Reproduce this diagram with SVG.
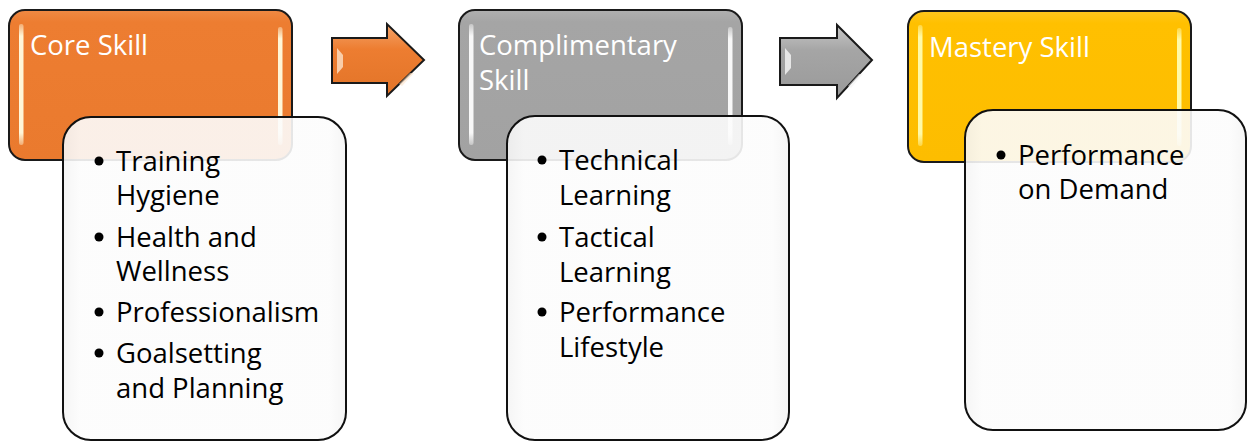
<svg xmlns="http://www.w3.org/2000/svg" width="1248" height="442" viewBox="0 0 1248 442">
<defs>
<linearGradient id="gOrange" x1="0" y1="0" x2="0" y2="1">
<stop offset="0" stop-color="#f08a44"/><stop offset="0.08" stop-color="#ed7d31"/><stop offset="1" stop-color="#ea7a2e"/>
</linearGradient>
<linearGradient id="gGray" x1="0" y1="0" x2="0" y2="1">
<stop offset="0" stop-color="#b0b0b0"/><stop offset="0.08" stop-color="#a5a5a5"/><stop offset="1" stop-color="#a2a2a2"/>
</linearGradient>
<linearGradient id="gGold" x1="0" y1="0" x2="0" y2="1">
<stop offset="0" stop-color="#ffc61f"/><stop offset="0.08" stop-color="#ffc000"/><stop offset="1" stop-color="#fdbd00"/>
</linearGradient>
<linearGradient id="gArrO" x1="0" y1="0" x2="0" y2="1">
<stop offset="0" stop-color="#f4a46a"/><stop offset="0.35" stop-color="#ed7d31"/><stop offset="1" stop-color="#e27428"/>
</linearGradient>
<linearGradient id="gArrG" x1="0" y1="0" x2="0" y2="1">
<stop offset="0" stop-color="#c8c8c8"/><stop offset="0.35" stop-color="#a5a5a5"/><stop offset="1" stop-color="#9a9a9a"/>
</linearGradient>
<linearGradient id="gHiO" x1="0" y1="0" x2="0" y2="1">
<stop offset="0" stop-color="#fff6d8" stop-opacity="0.4"/><stop offset="0.1" stop-color="#fff6d8"/><stop offset="0.9" stop-color="#fff6d8"/><stop offset="1" stop-color="#fff6d8" stop-opacity="0.4"/>
</linearGradient>
<linearGradient id="gHiG" x1="0" y1="0" x2="0" y2="1">
<stop offset="0" stop-color="#f8f8f8" stop-opacity="0.4"/><stop offset="0.1" stop-color="#f8f8f8"/><stop offset="0.9" stop-color="#f8f8f8"/><stop offset="1" stop-color="#f8f8f8" stop-opacity="0.4"/>
</linearGradient>
<linearGradient id="gHiY" x1="0" y1="0" x2="0" y2="1">
<stop offset="0" stop-color="#fffaa8" stop-opacity="0.4"/><stop offset="0.1" stop-color="#fffaa8"/><stop offset="0.9" stop-color="#fffaa8"/><stop offset="1" stop-color="#fffaa8" stop-opacity="0.4"/>
</linearGradient>
<linearGradient id="gCard" x1="0" y1="0" x2="1" y2="0">
<stop offset="0" stop-color="#f4f4f4"/><stop offset="0.06" stop-color="#fcfcfc"/><stop offset="0.94" stop-color="#fcfcfc"/><stop offset="1" stop-color="#f4f4f4"/>
</linearGradient>
</defs>
<style>
.head{stroke:#1a1a1a;stroke-width:2}
.card{fill:url(#gCard);fill-opacity:0.9;stroke:#111;stroke-width:2}
.arr{stroke:#1a1a1a;stroke-width:2;stroke-linejoin:miter}
.ht{font-family:"Open Sans","Noto Sans",sans-serif;font-size:27.5px;fill:#ffffff}
.bt{font-family:"Open Sans","Noto Sans",sans-serif;font-size:27.5px;fill:#000000}
</style>
<rect width="1248" height="442" fill="#ffffff"/>

<g id="core">
<rect class="head" x="9" y="10" width="283" height="150" rx="16" fill="url(#gOrange)"/>
<rect x="19" y="24" width="4.5" height="121" rx="2" fill="url(#gHiO)"/>
<rect x="278" y="27" width="4.5" height="118" rx="2" fill="url(#gHiO)"/>
<text class="ht" x="30" y="55">Core Skill</text>
</g>
<g id="core-list">
<rect class="card" x="63" y="117" width="283" height="323" rx="28"/>
<g class="bt">
<circle cx="99" cy="161" r="4.5"/>
<text x="116" y="171">Training</text>
<text x="116" y="205">Hygiene</text>
<circle cx="99" cy="237" r="4.5"/>
<text x="116" y="247">Health and</text>
<text x="116" y="281">Wellness</text>
<circle cx="99" cy="312" r="4.5"/>
<text x="116" y="322">Professionalism</text>
<circle cx="99" cy="353" r="4.5"/>
<text x="116" y="363">Goalsetting</text>
<text x="116" y="398">and Planning</text>
</g>
</g>

<g id="complimentary">
<rect class="head" x="459" y="10" width="283" height="150" rx="16" fill="url(#gGray)"/>
<rect x="469" y="24" width="4.5" height="121" rx="2" fill="url(#gHiG)"/>
<rect x="728" y="27" width="4.5" height="118" rx="2" fill="url(#gHiG)"/>
<text class="ht" x="479" y="55">Complimentary</text>
<text class="ht" x="479" y="90">Skill</text>
</g>
<g id="complimentary-list">
<rect class="card" x="507" y="116" width="282" height="324" rx="28"/>
<g class="bt">
<circle cx="542" cy="160" r="4.5"/>
<text x="559" y="170">Technical</text>
<text x="559" y="205">Learning</text>
<circle cx="542" cy="237" r="4.5"/>
<text x="559" y="247">Tactical</text>
<text x="559" y="282">Learning</text>
<circle cx="542" cy="312" r="4.5"/>
<text x="559" y="322">Performance</text>
<text x="559" y="357">Lifestyle</text>
</g>
</g>

<g id="mastery">
<rect class="head" x="908" y="11" width="283" height="151" rx="16" fill="url(#gGold)"/>
<rect x="918" y="25" width="4.5" height="121" rx="2" fill="url(#gHiY)"/>
<rect x="1177" y="28" width="4.5" height="118" rx="2" fill="url(#gHiY)"/>
<text class="ht" x="929" y="57">Mastery Skill</text>
</g>
<g id="mastery-list">
<rect class="card" x="965" y="110" width="281" height="320" rx="28"/>
<g class="bt">
<circle cx="1001" cy="155" r="4.5"/>
<text x="1018" y="165">Performance</text>
<text x="1018" y="199">on Demand</text>
</g>
</g>

<g id="connectors">
<path class="arr" d="M332 38 H387 V24 L424 60 L387 96 V83 H332 Z" fill="url(#gArrO)"/>
<path d="M337 48 L343 55 V67 L337 74 Z" fill="#fde2c8" opacity="0.8"/>
<path d="M399 84 L410 73 L414 73 L402 86 Z" fill="#fde2c8" opacity="0.6"/>
<path class="arr" d="M780 38 H837 V25 L872 60 L837 98 V85 H780 Z" fill="url(#gArrG)"/>
<path d="M785 48 L791 55 V68 L785 75 Z" fill="#f2f2f2" opacity="0.85"/>
<path d="M848 86 L859 74 L863 74 L851 88 Z" fill="#f2f2f2" opacity="0.6"/>
</g>
</svg>
